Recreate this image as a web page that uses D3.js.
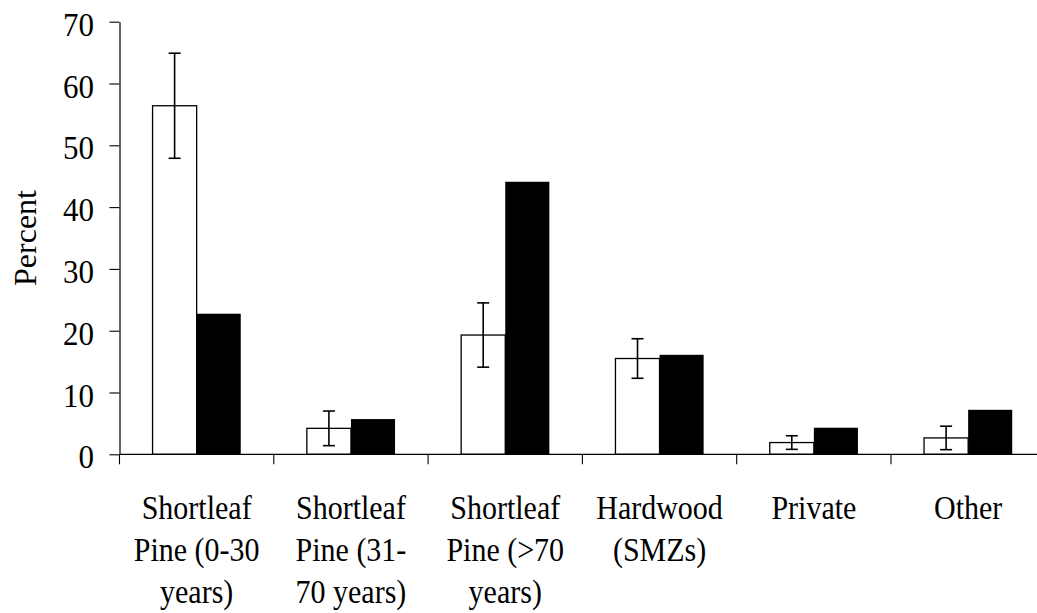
<!DOCTYPE html>
<html>
<head>
<meta charset="utf-8">
<script src="https://cdn.jsdelivr.net/npm/d3@7"></script>
<style>
  html, body { margin: 0; padding: 0; background: #fff; }
  svg { display: block; }
</style>
</head>
<body>
<svg id="chart" width="1037" height="613"></svg>
<script>
// ---- data ----
const categories = ["Shortleaf Pine (0-30 years)", "Shortleaf Pine (31-70 years)", "Shortleaf Pine (>70 years)", "Hardwood (SMZs)", "Private", "Other"];
const categoryLines = [
  ["Shortleaf", "Pine (0-30", "years)"],
  ["Shortleaf", "Pine (31-", "70 years)"],
  ["Shortleaf", "Pine (>70", "years)"],
  ["Hardwood", "(SMZs)"],
  ["Private"],
  ["Other"]
];
const series = ["Series A", "Series B"];
const seriesAValues = [56.4, 4.2, 19.3, 15.5, 1.9, 2.65];
const seriesAErrors = [8.5, 2.8, 5.2, 3.2, 1.1, 1.9];
const seriesBValues = [22.75, 5.7, 44.1, 16.1, 4.3, 7.2];
const yTicks = [0, 10, 20, 30, 40, 50, 60, 70];
const yLabel = "Percent";

// ---- layout ----
(function () {
const FONT = "'Liberation Serif', 'Times New Roman', Times, serif";
const svg = d3.select("#chart");
const left = 119.5, plotTop = 21.7, plotBottom = 454.3, bandStep = 154.3;
const x0 = d3.scaleBand().domain(categories).range([left, left + bandStep * categories.length]).padding(0);
const x1 = d3.scaleBand().domain(series).range([0, x0.bandwidth()]).paddingInner(0).paddingOuter(0.75);
const y = d3.scaleLinear().domain([0, 70]).range([plotBottom, plotTop]);

const rows = categories.map((c, i) => ({cat: c, a: seriesAValues[i], e: seriesAErrors[i], b: seriesBValues[i]}));

// bars
const g = svg.append("g");
const groups = g.selectAll("g.grp").data(rows).join("g").attr("class", "grp")
  .attr("transform", d => `translate(${x0(d.cat)},0)`);
groups.append("rect")
  .attr("x", x1("Series A")).attr("width", x1.bandwidth())
  .attr("y", d => y(d.a)).attr("height", d => y(0) - y(d.a))
  .attr("fill", "#fff").attr("stroke", "#000").attr("stroke-width", 1.3);
groups.append("rect")
  .attr("x", x1("Series B")).attr("width", x1.bandwidth())
  .attr("y", d => y(d.b)).attr("height", d => y(0) - y(d.b))
  .attr("fill", "#000");

// error bars
const cap = 6;
groups.each(function(d) {
  const gx = x1("Series A") + x1.bandwidth() / 2;
  const sel = d3.select(this).append("g").attr("stroke", "#000").attr("stroke-width", 1.6);
  sel.append("line").attr("x1", gx).attr("x2", gx).attr("y1", y(d.a + d.e)).attr("y2", y(d.a - d.e));
  sel.append("line").attr("x1", gx - cap).attr("x2", gx + cap).attr("y1", y(d.a + d.e)).attr("y2", y(d.a + d.e));
  sel.append("line").attr("x1", gx - cap).attr("x2", gx + cap).attr("y1", y(d.a - d.e)).attr("y2", y(d.a - d.e));
});

// y axis
const yAxis = svg.append("g").attr("transform", `translate(${left},0)`)
  .call(d3.axisLeft(y).tickValues(yTicks).tickSize(10).tickSizeOuter(0).tickFormat(d3.format("d")));
yAxis.select(".domain").attr("stroke", "#000").attr("stroke-width", 1.2);
yAxis.selectAll(".tick line").attr("stroke", "#000").attr("stroke-width", 1.1);
yAxis.selectAll(".tick text").remove();
yAxis.selectAll(".tick").append("text")
  .attr("text-anchor", "end")
  .attr("fill", "#000")
  .attr("transform", "translate(-25.5,13.5) scale(1,1.08)")
  .style("font-family", FONT)
  .style("font-size", "31px")
  .text(d => d);

// x axis
const xAxis = svg.append("g").attr("transform", `translate(0,${plotBottom})`);
xAxis.append("line").attr("x1", left).attr("x2", left + bandStep * categories.length)
  .attr("y1", 0).attr("y2", 0).attr("stroke", "#000").attr("stroke-width", 1.2);
xAxis.selectAll("line.tk").data(categories).join("line").attr("class", "tk")
  .attr("x1", d => x0(d)).attr("x2", d => x0(d)).attr("y1", 0).attr("y2", 10)
  .attr("stroke", "#000").attr("stroke-width", 1.1);

// category labels
const lineStart = 519, linePitch = 42;
categoryLines.forEach((lines, i) => {
  const cx = x0(categories[i]) + x0.bandwidth() / 2;
  lines.forEach((ln, j) => {
    svg.append("text")
      .attr("text-anchor", "middle")
      .attr("fill", "#000")
      .attr("transform", `translate(${cx},${lineStart + j * linePitch}) scale(1,1.12)`)
      .style("font-family", FONT)
      .style("font-size", "30px")
      .text(ln);
  });
});

// y label
svg.append("text")
  .attr("text-anchor", "middle")
  .attr("fill", "#000")
  .attr("transform", `translate(36,${(plotTop + plotBottom) / 2}) rotate(-90)`)
  .style("font-family", FONT)
  .style("font-size", "32px")
  .text(yLabel);
})();
</script>
</body>
</html>
